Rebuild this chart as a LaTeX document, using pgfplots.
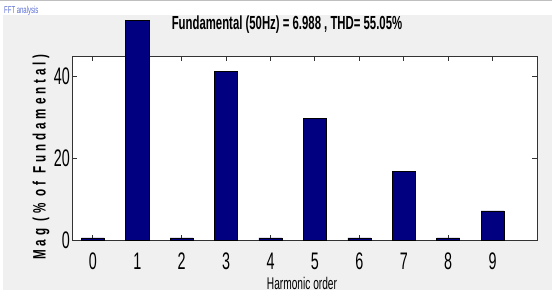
\documentclass[border=0pt]{standalone}
\usepackage{pgfplots}
\pgfplotsset{compat=1.18}
\usepackage{fontspec}
\setmainfont{Liberation Sans}
\newfontfamily\nf[FakeStretch=0.6]{Liberation Sans}
\newfontfamily\nfl[FakeStretch=0.65,LetterSpace=22]{Liberation Sans}
\definecolor{figbg}{HTML}{F0F0F0}
\definecolor{barc}{HTML}{000080}
\definecolor{fftblue}{HTML}{5B6FD6}
\begin{document}
\begin{tikzpicture}
\useasboundingbox (0bp,0bp) rectangle (552bp,296bp);
\fill[white] (0bp,0bp) rectangle (552bp,296bp);
\fill[figbg] (3bp,6bp) rectangle (552bp,281bp);
\draw[gray!50, line width=1.5bp] (0bp,295.5bp) -- (552bp,295.5bp);
\node[anchor=west, text=fftblue, inner sep=0pt, font=\nf\fontsize{10}{11}\selectfont] at (4bp,285bp) {FFT analysis};
\begin{axis}[
  at={(72bp,56bp)}, anchor=south west,
  scale only axis, width=465bp, height=184bp,
  xmin=-0.47, xmax=10, ymin=0, ymax=45,
  axis background/.style={fill=white},
  axis line style={black!80, line width=0.9bp},
  tick style={black!80, line width=0.9bp},
  tick align=inside, major tick length=5bp,
  xtick={0,1,2,3,4,5,6,7,8,9},
  ytick={0,20,40},
  /pgf/number format/assume math mode=true,
  tick label style={font=\nf\fontsize{24}{24}\selectfont},
  xticklabel style={inner sep=1bp, yshift=-12bp},
  yticklabel style={inner sep=2bp},
  clip=false,
]
\addplot[ybar, bar width=0.52, fill=barc, draw=black, line width=0.6bp] coordinates {
 (0,0.5) (1,53.8) (2,0.5) (3,41.3) (4,0.5) (5,29.7) (6,0.5) (7,16.7) (8,0.5) (9,7.1)
};
\end{axis}
\node[font=\nf\bfseries\fontsize{19}{19}\selectfont, inner sep=0pt] at (287bp,271bp) {Fundamental (50Hz) = 6.988 , THD= 55.05\%};
\node[font=\nf\fontsize{17}{17}\selectfont, inner sep=0pt] at (302bp,13bp) {Harmonic order};
\node[font=\nfl\bfseries\fontsize{18}{18}\selectfont, inner sep=0pt, rotate=90] at (41bp,139bp) {Mag (\% of Fundamental)};
\end{tikzpicture}
\end{document}
